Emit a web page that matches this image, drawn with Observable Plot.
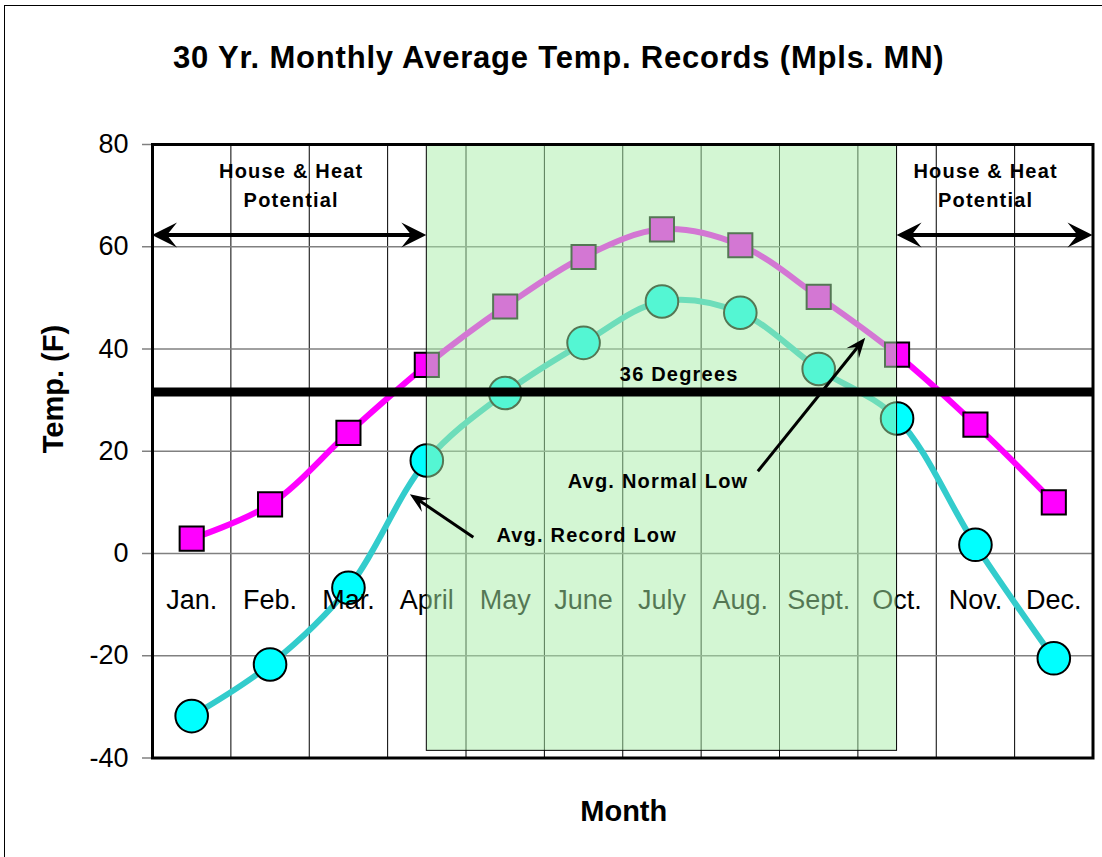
<!DOCTYPE html>
<html><head><meta charset="utf-8">
<script src="https://cdn.jsdelivr.net/npm/d3@7"></script>
<script src="https://cdn.jsdelivr.net/npm/@observablehq/plot@0.6"></script>
<style>
html,body{margin:0;padding:0;background:#fff;}
#wrap{position:relative;width:1102px;height:857px;overflow:hidden;}
#border{position:absolute;left:4px;top:5px;right:-10px;bottom:-10px;border-left:1.5px solid #000;border-top:1.5px solid #000;pointer-events:none;}
</style></head><body>
<div id="wrap"><div id="chart"></div><div id="border"></div></div>
<script>
// ---- data ----
const months = ["Jan.","Feb.","Mar.","April","May","June","July","Aug.","Sept.","Oct.","Nov.","Dec."];
const avgNormalLow = [2.9, 9.6, 23.6, 36.9, 48.3, 58.0, 63.4, 60.3, 50.2, 38.9, 25.2, 10.0];
const avgRecordLow = [-31.8, -21.7, -6.7, 18.2, 31.4, 41.2, 49.3, 47.1, 36.1, 26.4, 1.7, -20.5];
const yTicks = [-40, -20, 0, 20, 40, 60, 80];
const gridY = [-20, 0, 20, 40, 60];
const monthBounds = [1, 2, 3, 4, 5, 6, 7, 8, 9, 10, 11];
const thresholdTemp = [31.6];
// shaded season: from April to Oct (month positions), temp range
const seasonStart = [3.5], seasonEnd = [9.5], seasonLow = [-38.6], seasonHigh = [80];

const titleText = ["30 Yr. Monthly Average Temp. Records (Mpls. MN)"];
const xTitle = ["Month"];
const yTitle = ["Temp. (F)"];

const heatLabel = ["House & Heat\nPotential", "House & Heat\nPotential"];
const heatLabelX = [1.77, 10.63];
const heatLabelY = [67.7, 67.7];
const heatArrowX1 = [0, 9.5], heatArrowX2 = [3.5, 12], heatArrowY = [62.2, 62.2];

const noteLabel = ["36 Degrees", "Avg. Normal Low", "Avg. Record Low"];
const noteX = [6.72, 6.45, 5.54];
const noteY = [33.8, 12.9, 2.3];
const pointerX1 = [7.73, 4.10], pointerY1 = [16.0, 3.1];
const pointerX2 = [9.10, 3.29], pointerY2 = [42.1, 11.5];

// ---- tables ----
const table = months.map((m, i) => ({month: m, pos: i + 0.5, normal: avgNormalLow[i], record: avgRecordLow[i]}));
const season = seasonStart.map((s, i) => ({x1: s, x2: seasonEnd[i], y1: seasonLow[i], y2: seasonHigh[i]}));
const heatLabels = heatLabel.map((t, i) => ({t, x: heatLabelX[i], y: heatLabelY[i]}));
const heatArrows = heatArrowX1.map((x1, i) => ({x1, x2: heatArrowX2[i], y1: heatArrowY[i], y2: heatArrowY[i]}));
const notes = noteLabel.map((t, i) => ({t, x: noteX[i], y: noteY[i]}));
const pointers = pointerX1.map((x1, i) => ({x1, y1: pointerY1[i], x2: pointerX2[i], y2: pointerY2[i]}));

function arrowMark(list, {head = 24, half = 12, width = 4, both = false} = {}) {
  return (index, scales) => {
    const g = d3.create("svg:g");
    for (const a of list) {
      const x1 = scales.x(a.x1), y1 = scales.y(a.y1), x2 = scales.x(a.x2), y2 = scales.y(a.y2);
      const t = Math.atan2(y2 - y1, x2 - x1);
      const c = Math.cos(t), s = Math.sin(t);
      const inset = head * 0.5;
      const sx = both ? inset : 0;
      g.append("line")
        .attr("x1", x1 + c * sx).attr("y1", y1 + s * sx)
        .attr("x2", x2 - c * inset).attr("y2", y2 - s * inset)
        .attr("stroke", "#000").attr("stroke-width", width);
      const heads = both ? [[x2, y2, t], [x1, y1, t + Math.PI]] : [[x2, y2, t]];
      for (const [tx, ty, th] of heads) {
        const cc = Math.cos(th), ss = Math.sin(th);
        const pts = [[0, 0], [-head, -half], [-head * 0.6, 0], [-head, half]]
          .map(([px, py]) => [tx + px * cc - py * ss, ty + px * ss + py * cc]);
        g.append("path").attr("d", "M" + pts.map(p => p.join(",")).join("L") + "Z").attr("fill", "#000");
      }
    }
    return g.node();
  };
}

const font = "'Liberation Sans', Arial, Helvetica, sans-serif";

const chart = Plot.plot({
  width: 1102,
  height: 857,
  marginLeft: 152,
  marginRight: 9.5,
  marginTop: 144,
  marginBottom: 99.5,
  style: {fontFamily: font, fontSize: "27px", color: "#000", background: "transparent", overflow: "visible"},
  x: {domain: [0, 12], axis: null},
  y: {domain: [-40, 80], axis: null},
  marks: [
    Plot.ruleX(monthBounds, {stroke: "#000", strokeWidth: 1}),
    Plot.ruleY(gridY, {stroke: "#808080", strokeWidth: 1.5}),
    Plot.line(table, {x: "pos", y: "record", stroke: "#33cccc", strokeWidth: 6, curve: "catmull-rom"}),
    Plot.line(table, {x: "pos", y: "normal", stroke: "#ff00ff", strokeWidth: 6, curve: "catmull-rom"}),
    Plot.dot(table, {x: "pos", y: "record", r: 16.3, symbol: "circle", fill: "#00ffff", stroke: "#000", strokeWidth: 2}),
    Plot.dot(table, {x: "pos", y: "normal", r: 13.6, symbol: "square", fill: "#ff00ff", stroke: "#000", strokeWidth: 2}),
    Plot.text(table, {x: "pos", y: () => 0, text: "month", dy: 55, lineAnchor: "bottom", fontSize: 27, fill: "#000"}),
    Plot.rect(season, {x1: "x1", x2: "x2", y1: "y1", y2: "y2", fill: "#a8eea8", fillOpacity: 0.5, stroke: "#000", strokeWidth: 1}),
    Plot.ruleY(thresholdTemp, {stroke: "#000", strokeWidth: 9}),
    arrowMark(heatArrows, {head: 25, half: 12.5, width: 4, both: true}),
    arrowMark(pointers, {head: 20, half: 8, width: 3}),
    Plot.text(heatLabels, {x: "x", y: "y", text: "t", lineAnchor: "bottom", lineHeight: 1.45, fontSize: 20, fontWeight: "bold", fill: "#000"}),
    Plot.text(notes, {x: "x", y: "y", text: "t", lineAnchor: "bottom", fontSize: 20, fontWeight: "bold", fill: "#000"}),
    Plot.axisY(yTicks, {tickSize: 10, tickPadding: 14, stroke: "#808080", fill: "#000", strokeWidth: 1.5, fontSize: 27, label: null, tickFormat: d => `${d}`}),
    Plot.frame({stroke: "#000", strokeWidth: 3}),
    Plot.text(titleText, {frameAnchor: "top", dx: -64, dy: -77, lineAnchor: "bottom", fontSize: 31, fontWeight: "bold", fill: "#000"}),
    Plot.text(xTitle, {frameAnchor: "bottom", dx: 1, dy: 63, lineAnchor: "bottom", fontSize: 29, fontWeight: "bold", fill: "#000"}),
    Plot.text(yTitle, {frameAnchor: "left", dx: -90, dy: 2, rotate: -90, lineAnchor: "bottom", fontSize: 29, fontWeight: "bold", fill: "#000"})
  ]
});

chart.querySelectorAll('g[font-size="20"]').forEach(g => g.setAttribute("letter-spacing", "1.2"));
chart.querySelectorAll('g[font-size="31"]').forEach(g => g.setAttribute("letter-spacing", "0.8"));
document.getElementById("chart").appendChild(chart);
</script>
</body></html>
